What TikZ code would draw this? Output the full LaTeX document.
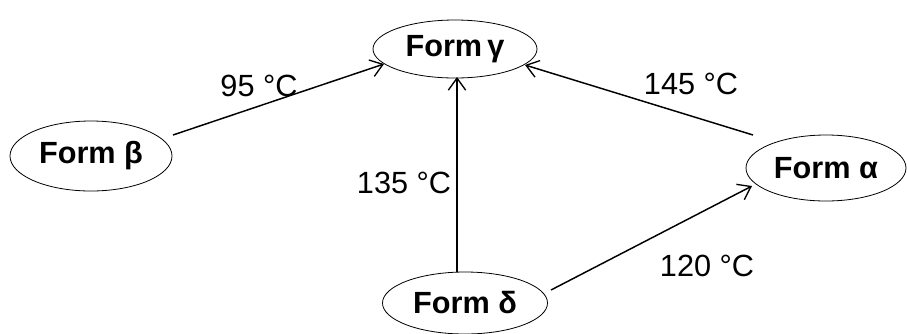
\documentclass[tikz,border=0pt]{standalone}
\usepackage{fontspec}
\setmainfont{Liberation Sans}
\usetikzlibrary{shapes.geometric,arrows.meta}
\begin{document}
\begin{tikzpicture}[x=0.75pt,y=-0.75pt,
  form/.style={draw,ellipse,line width=0.6pt,inner sep=0pt,
    font=\fontsize{23}{26}\selectfont\bfseries},
  conv/.style={-{Straight Barb[length=9pt,width=13pt,line width=1pt]},line width=1.1pt},
  temp/.style={font=\fontsize{23}{26}\selectfont}]
\useasboundingbox (0,0) rectangle (907,333);
\node[form,minimum width=164*0.75pt,minimum height=58*0.75pt] (g) at (455,49) {Form\,γ};
\node[form,minimum width=162*0.75pt,minimum height=70*0.75pt] (b) at (91,156) {Form β};
\node[form,minimum width=160*0.75pt,minimum height=66*0.75pt] (a) at (826,168) {Form α};
\node[form,minimum width=165*0.75pt,minimum height=62*0.75pt] (d) at (465,303) {Form δ};
% free ends of the connectors
\coordinate (bs) at (173,135);
\coordinate (as) at (753,135);
\coordinate (ds) at (551,290);
\coordinate (gb) at (384,64);
\coordinate (gd) at (457,77);
\coordinate (ga) at (525,65);
\coordinate (ad) at (752,186);
\draw[conv] (bs) -- (gb);
\draw[conv] (d.north -| gd) -- (gd);
\draw[conv] (as) -- (ga);
\draw[conv] (ds) -- (ad);
\node[temp] (t95) at (259,86) {95 °C};
\node[temp] (t135) at (404,183) {135 °C};
\node[temp] (t145) at (691,84) {145 °C};
\node[temp] (t120) at (707,266) {120 °C};
\end{tikzpicture}
\end{document}
